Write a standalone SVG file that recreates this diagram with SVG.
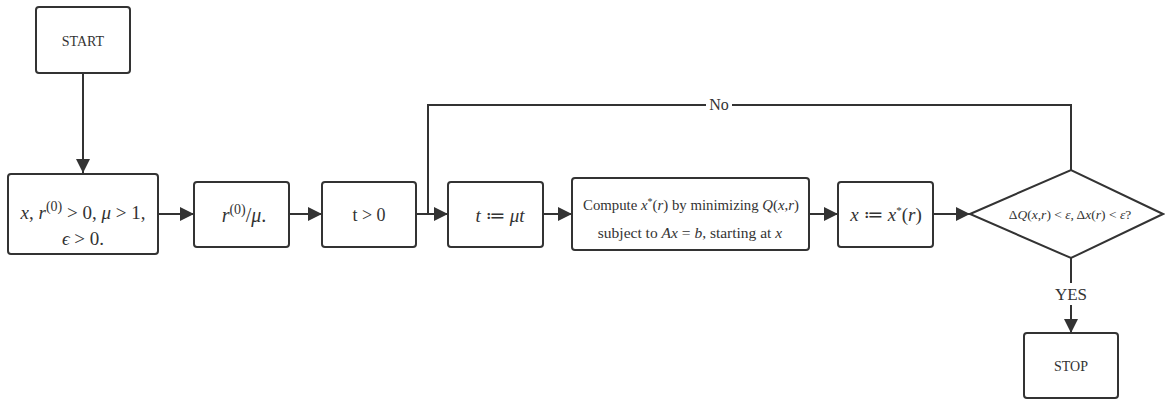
<svg xmlns="http://www.w3.org/2000/svg" width="1165" height="400" viewBox="0 0 1165 400">
<style>
.box{fill:#fff;stroke:#333;stroke-width:2}
.ln{fill:none;stroke:#333;stroke-width:2}
text{font-family:'Liberation Serif','DejaVu Serif',serif;fill:#333;text-anchor:middle}
.m{font-style:italic}
</style>
<defs>
<marker id="av" viewBox="0 0 10 10" refX="10" refY="5" markerWidth="18" markerHeight="14" markerUnits="userSpaceOnUse" orient="auto">
<path d="M0,0 L10,5 L0,10 z" fill="#333"/>
</marker>
</defs>
<rect width="1165" height="400" fill="#fff"/>
<g id="connectors">
<line class="ln" x1="83" y1="73" x2="83" y2="173" marker-end="url(#av)"/>
<line class="ln" x1="158" y1="214" x2="194" y2="214" marker-end="url(#av)"/>
<line class="ln" x1="289" y1="214" x2="322" y2="214" marker-end="url(#av)"/>
<line class="ln" x1="416" y1="214" x2="448" y2="214" marker-end="url(#av)"/>
<line class="ln" x1="543" y1="214" x2="572" y2="214" marker-end="url(#av)"/>
<line class="ln" x1="809" y1="214" x2="838" y2="214" marker-end="url(#av)"/>
<line class="ln" x1="933" y1="214" x2="970" y2="214" marker-end="url(#av)"/>
<polyline class="ln" points="1071,170 1071,105 428,105 428,214"/>
<rect x="706" y="96" width="26" height="18" fill="#fff"/>
<text x="719" y="110" font-size="16">No</text>
<line class="ln" x1="1071" y1="258" x2="1071" y2="283"/>
<text x="1071" y="300" font-size="17">YES</text>
<line class="ln" x1="1071" y1="305" x2="1071" y2="333" marker-end="url(#av)"/>
</g>
<g id="start">
<rect class="box" x="36" y="7" width="94" height="66" rx="3"/>
<text x="83" y="46" font-size="14">START</text>
</g>
<g id="init">
<rect class="box" x="8" y="174" width="150" height="80" rx="3"/>
<text x="83" y="219" font-size="19"><tspan class="m">x</tspan>, <tspan class="m">r</tspan><tspan font-size="14" dy="-8">(0)</tspan><tspan dy="8"> &gt; 0, </tspan><tspan class="m">μ</tspan> &gt; 1,</text>
<text x="83" y="245" font-size="19"><tspan class="m">ϵ</tspan> &gt; 0.</text>
</g>
<g id="r0mu">
<rect class="box" x="194" y="182" width="95" height="65" rx="3"/>
<text x="244" y="222" font-size="20"><tspan class="m">r</tspan><tspan font-size="14" dy="-8">(0)</tspan><tspan dy="8">/</tspan><tspan class="m">μ</tspan>.</text>
</g>
<g id="tpos">
<rect class="box" x="322" y="182" width="94" height="65" rx="3"/>
<text x="369" y="221" font-size="18">t &gt; 0</text>
</g>
<g id="tupdate">
<rect class="box" x="448" y="182" width="95" height="65" rx="3"/>
<text x="500" y="222" font-size="19"><tspan class="m">t</tspan> ≔ <tspan class="m">μt</tspan></text>
</g>
<g id="compute">
<rect class="box" x="572" y="178" width="237" height="72" rx="3"/>
<text x="691" y="210" font-size="14.8"><tspan>Compute </tspan><tspan class="m">x</tspan><tspan font-size="10" dy="-5">*</tspan><tspan dy="5">(</tspan><tspan class="m">r</tspan><tspan>) by minimizing </tspan><tspan class="m">Q</tspan><tspan>(</tspan><tspan class="m">x</tspan><tspan>,</tspan><tspan class="m">r</tspan><tspan>)</tspan></text>
<text x="690" y="238" font-size="15.5"><tspan>subject to </tspan><tspan class="m">Ax</tspan><tspan> = </tspan><tspan class="m">b</tspan><tspan>, starting at </tspan><tspan class="m">x</tspan></text>
</g>
<g id="xupdate">
<rect class="box" x="838" y="182" width="95" height="65" rx="3"/>
<text x="886" y="221" font-size="19"><tspan class="m">x</tspan> ≔ <tspan class="m">x</tspan><tspan font-size="11" dy="-7">*</tspan><tspan dy="7">(</tspan><tspan class="m">r</tspan>)</text>
</g>
<g id="decision">
<polygon class="box" points="970,214 1071,170 1163,214 1071,258"/>
<text x="1070" y="219" font-size="13.5">Δ<tspan class="m">Q</tspan>(<tspan class="m">x</tspan>,<tspan class="m">r</tspan>) &lt; <tspan class="m">ε</tspan>, Δ<tspan class="m">x</tspan>(<tspan class="m">r</tspan>) &lt; <tspan class="m">ε</tspan>?</text>
</g>
<g id="stop">
<rect class="box" x="1024" y="333" width="94" height="65" rx="3"/>
<text x="1071" y="371" font-size="14">STOP</text>
</g>
</svg>
